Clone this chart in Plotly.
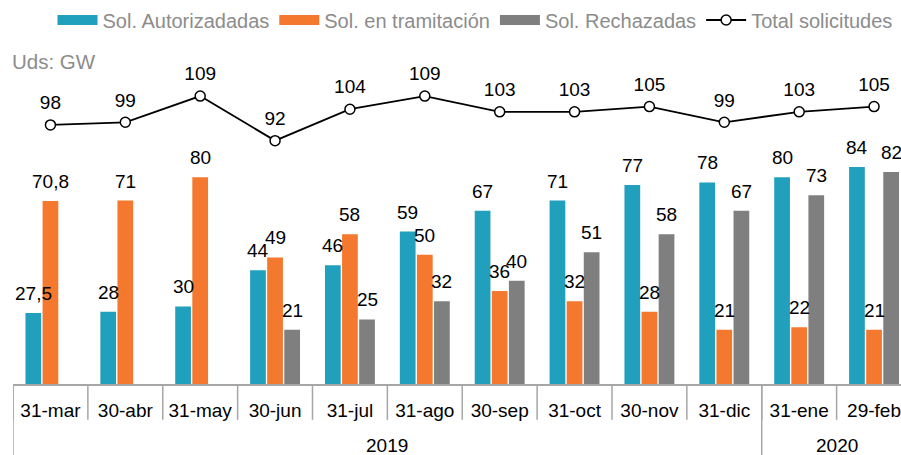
import plotly.graph_objects as go

months = ["31-mar", "30-abr", "31-may", "30-jun", "31-jul", "31-ago",
          "30-sep", "31-oct", "30-nov", "31-dic", "31-ene", "29-feb"]
years = ["2019"] * 10 + ["2020"] * 2
autorizadas = [27.5, 28, 30, 44, 46, 59, 67, 71, 77, 78, 80, 84]
tramitacion = [70.8, 71, 80, 49, 58, 50, 36, 32, 28, 21, 22, 21]
rechazadas = [None, None, None, 21, 25, 32, 40, 51, 58, 67, 73, 82]
total = [98, 99, 109, 92, 104, 109, 103, 103, 105, 99, 103, 105]

BLUE = "#21A0BD"
ORANGE = "#F4782E"
GRAY = "#7F7F7F"
TXTGRAY = "#8C8C8C"
FONT = "Liberation Sans, Arial, sans-serif"
FS = 19
BARGAP = 0.315

series = [("Sol. Autorizadadas", autorizadas, BLUE),
          ("Sol. en tramitación", tramitacion, ORANGE),
          ("Sol. Rechazadas", rechazadas, GRAY)]

fig = go.Figure()
for name, vals, col in series:
    fig.add_trace(go.Bar(
        x=months, y=vals, name=name, marker_color=col, marker_line_width=0,
        showlegend=False, legendgroup=name,
    ))
# legend swatches (wide rectangles) for the bar series
for name, vals, col in series:
    fig.add_trace(go.Scatter(
        x=[None], y=[None], name=name, mode="lines", legendgroup=name,
        line=dict(color=col, width=10), hoverinfo="skip",
    ))

fig.add_trace(go.Scatter(
    x=months, y=total, name="Total solicitudes", mode="lines+markers", yaxis="y2",
    line=dict(color="black", width=1.8),
    marker=dict(symbol="circle", size=10, color="white", line=dict(color="black", width=1.5)),
    cliponaxis=False,
))
fig.add_trace(go.Scatter(
    x=months, y=total, mode="markers+text", showlegend=False, hoverinfo="skip", yaxis="y2",
    marker=dict(size=16, color="rgba(0,0,0,0)"),
    texttemplate="%{y}", textposition="top center", cliponaxis=False,
    textfont=dict(family=FONT, size=FS, color="black"),
))

annotations = []
# bar value labels, placed at the centre of each bar slot (drawn above all bars)
n = len(series)
slot = (1 - BARGAP) / n
for k, (name, vals, col) in enumerate(series):
    off = (k - (n - 1) / 2) * slot
    for i, v in enumerate(vals):
        if v is None:
            continue
        annotations.append(dict(
            text=f"{v:g}".replace(".", ","), xref="x", yref="y", x=i + off, y=v,
            xanchor="center", yanchor="bottom", yshift=7, showarrow=False,
            font=dict(family=FONT, size=FS, color="black")))

shapes = []
for i in range(len(months)):
    shapes.append(dict(type="line", xref="x", yref="paper", x0=i - 0.5, x1=i - 0.5,
                       y0=0, y1=-0.111, line=dict(color="#A6A6A6", width=1.5)))
start = 0
groups = []
for i in range(1, len(years) + 1):
    if i == len(years) or years[i] != years[start]:
        groups.append((years[start], start, i - 1))
        start = i
for yr, a, b in groups:
    shapes.append(dict(type="line", xref="x", yref="paper", x0=a - 0.5, x1=a - 0.5,
                       y0=0, y1=-0.23, line=dict(color="#A6A6A6", width=1.5)))
    annotations.append(dict(text=yr, xref="x", yref="paper", x=(a + b) / 2, y=-0.189,
                            showarrow=False, yanchor="middle",
                            font=dict(family=FONT, size=FS, color="black")))

annotations.append(dict(text="Uds: GW", xref="paper", yref="paper",
                        x=-0.003, y=0.997, xanchor="left", yanchor="middle",
                        showarrow=False, font=dict(family=FONT, size=20.5, color=TXTGRAY)))

fig.update_layout(
    width=901, height=455,
    margin=dict(l=13, r=0, t=61, b=71),
    paper_bgcolor="white", plot_bgcolor="white",
    barmode="group", bargap=BARGAP, bargroupgap=0.08,
    showlegend=True,
    legend=dict(orientation="h", xref="container", yref="container",
                x=475 / 901, y=1 - 20 / 455, xanchor="center", yanchor="middle",
                font=dict(family=FONT, size=20, color=TXTGRAY),
                traceorder="normal", itemwidth=40),
    shapes=shapes, annotations=annotations,
    font=dict(family=FONT, size=FS, color="black"),
    yaxis=dict(range=[0, 125], visible=False, showgrid=False, zeroline=False),
    yaxis2=dict(overlaying="y", range=[-0.9, 122.4], visible=False, showgrid=False),
)
fig.update_xaxes(type="category", range=[-0.5, 11.36], showline=True, linecolor="#A6A6A6",
                 linewidth=1.5, ticks="", showgrid=False, ticklabelstandoff=8,
                 tickfont=dict(family=FONT, size=FS, color="black"))

fig.write_html("out.html", post_script="document.body.style.margin='0';",
               config={"displayModeBar": False})
